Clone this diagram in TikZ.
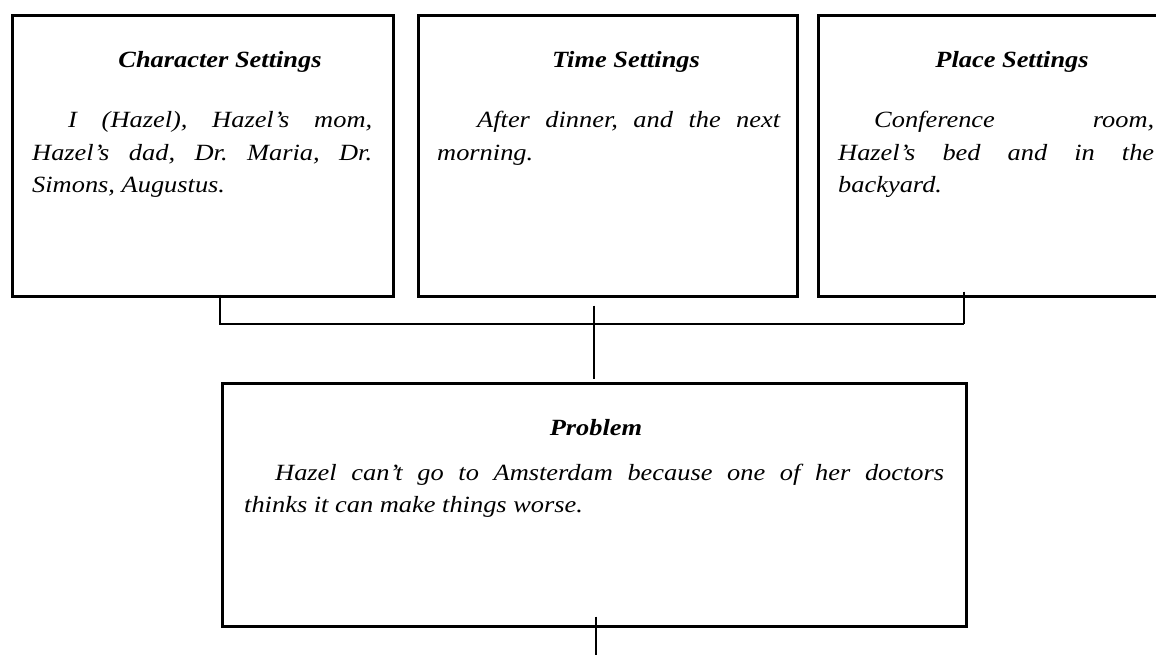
\documentclass[tikz,border=0pt]{standalone}
\usepackage{fontspec}
\usepackage{graphicx}
\setmainfont{Liberation Serif}
\usetikzlibrary{calc}
\newcommand\mybody[3]{\scalebox{1}[0.88]{\parbox[t]{#1}{\fontsize{26.4}{36.9}\selectfont\itshape\frenchspacing\noindent\hspace*{#2}#3}}}
\newcommand\mytitle[1]{\scalebox{1}[0.88]{\fontsize{26.4}{36.9}\selectfont\bfseries\itshape #1}}
\begin{document}
\begin{tikzpicture}[x=1pt,y=-1pt,
  box/.style={draw=black, line width=3pt, rectangle, inner sep=0pt},
  link/.style={draw=black, line width=1.1pt},
  ttl/.style={anchor=base, inner sep=0pt},
  body/.style={anchor=base west, inner sep=0pt}]
\useasboundingbox (0,0) rectangle (1156,655);
\clip (0,0) rectangle (1156,655);
% boxes
\node[box, minimum width=381pt, minimum height=280pt] (cs) at (202.5,156) {};
\node[box, minimum width=379pt, minimum height=280pt] (ts) at (607.5,156) {};
\node[box, minimum width=380pt, minimum height=280pt] (ps) at (1008,156) {};
\node[box, minimum width=744pt, minimum height=243pt] (pr) at (594,504.5) {};
% texts
\node[ttl] (cst) at (220,68) {\mytitle{Character Settings}};
\node[body] (csb) at (32,128)
  {\mybody{340pt}{36pt}{I (Hazel), Hazel’s mom,\linebreak Hazel’s dad, Dr. Maria, Dr.\linebreak Simons, Augustus.}};
\node[ttl] (tst) at (626,68) {\mytitle{Time Settings}};
\node[body] (tsb) at (437,128)
  {\mybody{343pt}{40pt}{After dinner, and the next\linebreak morning.}};
\node[ttl] (pst) at (1012,68) {\mytitle{Place Settings}};
\node[body] (psb) at (838,128)
  {\mybody{316pt}{36pt}{Conference room,\linebreak Hazel’s bed and in the\linebreak backyard.}};
\node[ttl] (prt) at (596,435) {\mytitle{Problem}};
\node[body] (prb) at (244,480)
  {\mybody{700pt}{31pt}{Hazel can’t go to Amsterdam because one of her doctors\linebreak thinks it can make things worse.}};
% connectors
\coordinate (jl) at (220,324);
\coordinate (jr) at (964,324);
\coordinate (jc) at (594,324);
\coordinate (bot) at (596,655);
\draw[link] (cs.south -| jl) ++(0,-3) -- (jl) -- (jr);
\draw[link] (ps.south -| jr) ++(0,-6) -- (jr);
\draw[link] ($(ts.south -| jc)+(0,8)$) -- ($(pr.north -| jc)+(0,-3)$);
\draw[link] ($(pr.south -| bot)+(0,-11)$) -- (bot);
\end{tikzpicture}
\end{document}
